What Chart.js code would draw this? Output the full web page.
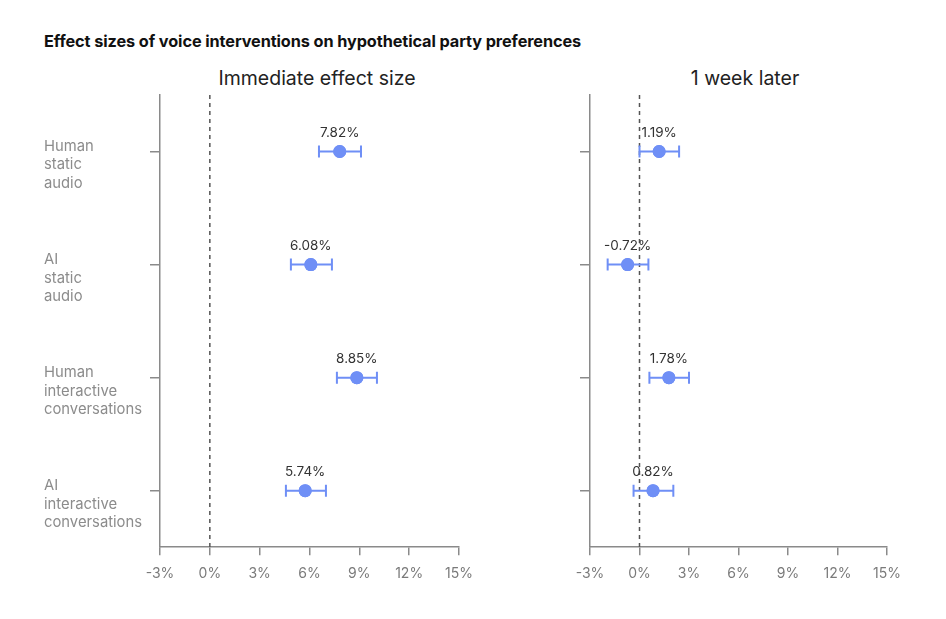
<!DOCTYPE html>
<html>
<head>
<meta charset="utf-8">
<script src="https://cdn.jsdelivr.net/npm/chart.js@4.4.0/dist/chart.umd.min.js"></script>
<style>
  html, body { margin: 0; padding: 0; background: #fff; }
  body { width: 946px; height: 619px; position: relative; overflow: hidden; font-family: Inter, "Noto Sans", sans-serif; }
  canvas { position: absolute; left: 0; top: 0; }
  .title { position: absolute; left: 44px; top: 31px; font-size: 16.3px; font-weight: 700; color: #111; letter-spacing: -0.1px; }
  .sub { position: absolute; top: 66px; font-size: 19.5px; color: #222; text-align: center; width: 300px; }
</style>
</head>
<body>
<div class="title">Effect sizes of voice interventions on hypothetical party preferences</div>
<div class="sub" style="left:167px">Immediate effect size</div>
<div class="sub" style="left:595px">1 week later</div>
<canvas id="left" width="946" height="619"></canvas>
<canvas id="right" width="946" height="619"></canvas>
<script>
const categories = [
  ['Human', 'static', 'audio'],
  ['AI', 'static', 'audio'],
  ['Human', 'interactive', 'conversations'],
  ['AI', 'interactive', 'conversations']
];
const xTicks = [-3, 0, 3, 6, 9, 12, 15];

const immediate = [7.82, 6.08, 8.85, 5.74];
const immediateLow = [6.57, 4.88, 7.65, 4.58];
const immediateHigh = [9.10, 7.35, 10.06, 6.99];

const weekLater = [1.19, -0.72, 1.78, 0.82];
const weekLaterLow = [0.0, -1.93, 0.60, -0.36];
const weekLaterHigh = [2.40, 0.54, 3.00, 2.05];

const blue = '#6f8ff6';
const axisGray = '#8a8a8a';

const errorBars = {
  id: 'errorBars',
  beforeDatasetsDraw(chart) {
    const { ctx, chartArea, scales } = chart;
    const x0 = scales.x.getPixelForValue(0);
    ctx.save();
    ctx.strokeStyle = '#555';
    ctx.lineWidth = 1.5;
    ctx.setLineDash([4, 4]);
    ctx.beginPath();
    ctx.moveTo(x0, chartArea.top);
    ctx.lineTo(x0, chartArea.bottom);
    ctx.stroke();
    ctx.restore();
  },
  afterDatasetsDraw(chart, args, opts) {
    const { ctx, scales } = chart;
    ctx.save();
    ctx.strokeStyle = blue;
    ctx.lineWidth = 2;
    opts.values.forEach((v, i) => {
      const y = scales.y.getPixelForValue(i);
      const xl = scales.x.getPixelForValue(opts.low[i]);
      const xh = scales.x.getPixelForValue(opts.high[i]);
      ctx.beginPath();
      ctx.moveTo(xl, y); ctx.lineTo(xh, y);
      ctx.moveTo(xl, y - 6); ctx.lineTo(xl, y + 6);
      ctx.moveTo(xh, y - 6); ctx.lineTo(xh, y + 6);
      ctx.stroke();
    });
    // redraw points on top
    chart.getDatasetMeta(0).controller.draw();
    ctx.fillStyle = '#333';
    ctx.font = '13.5px Inter, "Noto Sans", sans-serif';
    ctx.textAlign = 'center';
    ctx.textBaseline = 'middle';
    opts.values.forEach((v, i) => {
      const y = scales.y.getPixelForValue(i);
      const x = scales.x.getPixelForValue(v);
      ctx.fillText(v.toFixed(2) + '%', x, y - 19);
    });
    ctx.restore();
  }
};

const yLabels = {
  id: 'yLabels',
  afterDraw(chart, args, opts) {
    if (!opts.show) return;
    const { ctx, scales } = chart;
    ctx.save();
    ctx.fillStyle = '#8c8c8c';
    ctx.font = '14.8px Inter, "Noto Sans", sans-serif';
    ctx.textAlign = 'left';
    ctx.textBaseline = 'middle';
    categories.forEach((lines, i) => {
      const y = scales.y.getPixelForValue(i);
      lines.forEach((t, k) => ctx.fillText(t, 44, y - 5 + k * 18.5));
    });
    ctx.restore();
  }
};

function makeChart(id, values, low, high, padLeft, padRight, showLabels) {
  return new Chart(document.getElementById(id), {
    type: 'line',
    data: {
      labels: categories.map(c => c.join(' ')),
      datasets: [{
        data: values,
        showLine: false,
        pointRadius: 6.5,
        pointHoverRadius: 6.5,
        pointBackgroundColor: blue,
        pointBorderWidth: 0
      }]
    },
    plugins: [errorBars, yLabels],
    options: {
      indexAxis: 'y',
      responsive: false,
      animation: false,
      events: [],
      layout: { padding: { left: padLeft, right: padRight, top: 95, bottom: 27 } },
      plugins: {
        legend: { display: false },
        tooltip: { enabled: false },
        errorBars: { values, low, high },
        yLabels: { show: showLabels }
      },
      scales: {
        x: {
          type: 'linear',
          min: xTicks[0],
          max: xTicks[xTicks.length - 1],
          afterBuildTicks: axis => { axis.ticks = xTicks.map(v => ({ value: v })); },
          border: { color: axisGray, width: 1.5 },
          grid: { drawOnChartArea: false, drawTicks: true, tickLength: 8, color: axisGray, lineWidth: 1.5 },
          ticks: {
            padding: 10,
            color: '#7a7a7a',
            font: { size: 14, family: 'Inter, "Noto Sans", sans-serif' },
            callback: v => v + '%'
          }
        },
        y: {
          type: 'category',
          offset: true,
          border: { color: axisGray, width: 1.5 },
          grid: { drawOnChartArea: false, drawTicks: true, tickLength: 10, color: axisGray, lineWidth: 1.5, offset: false },
          ticks: { display: false }
        }
      }
    }
  });
}

makeChart('left', immediate, immediateLow, immediateHigh, 150, 487, true);
makeChart('right', weekLater, weekLaterLow, weekLaterHigh, 580, 59, false);
</script>
</body>
</html>
